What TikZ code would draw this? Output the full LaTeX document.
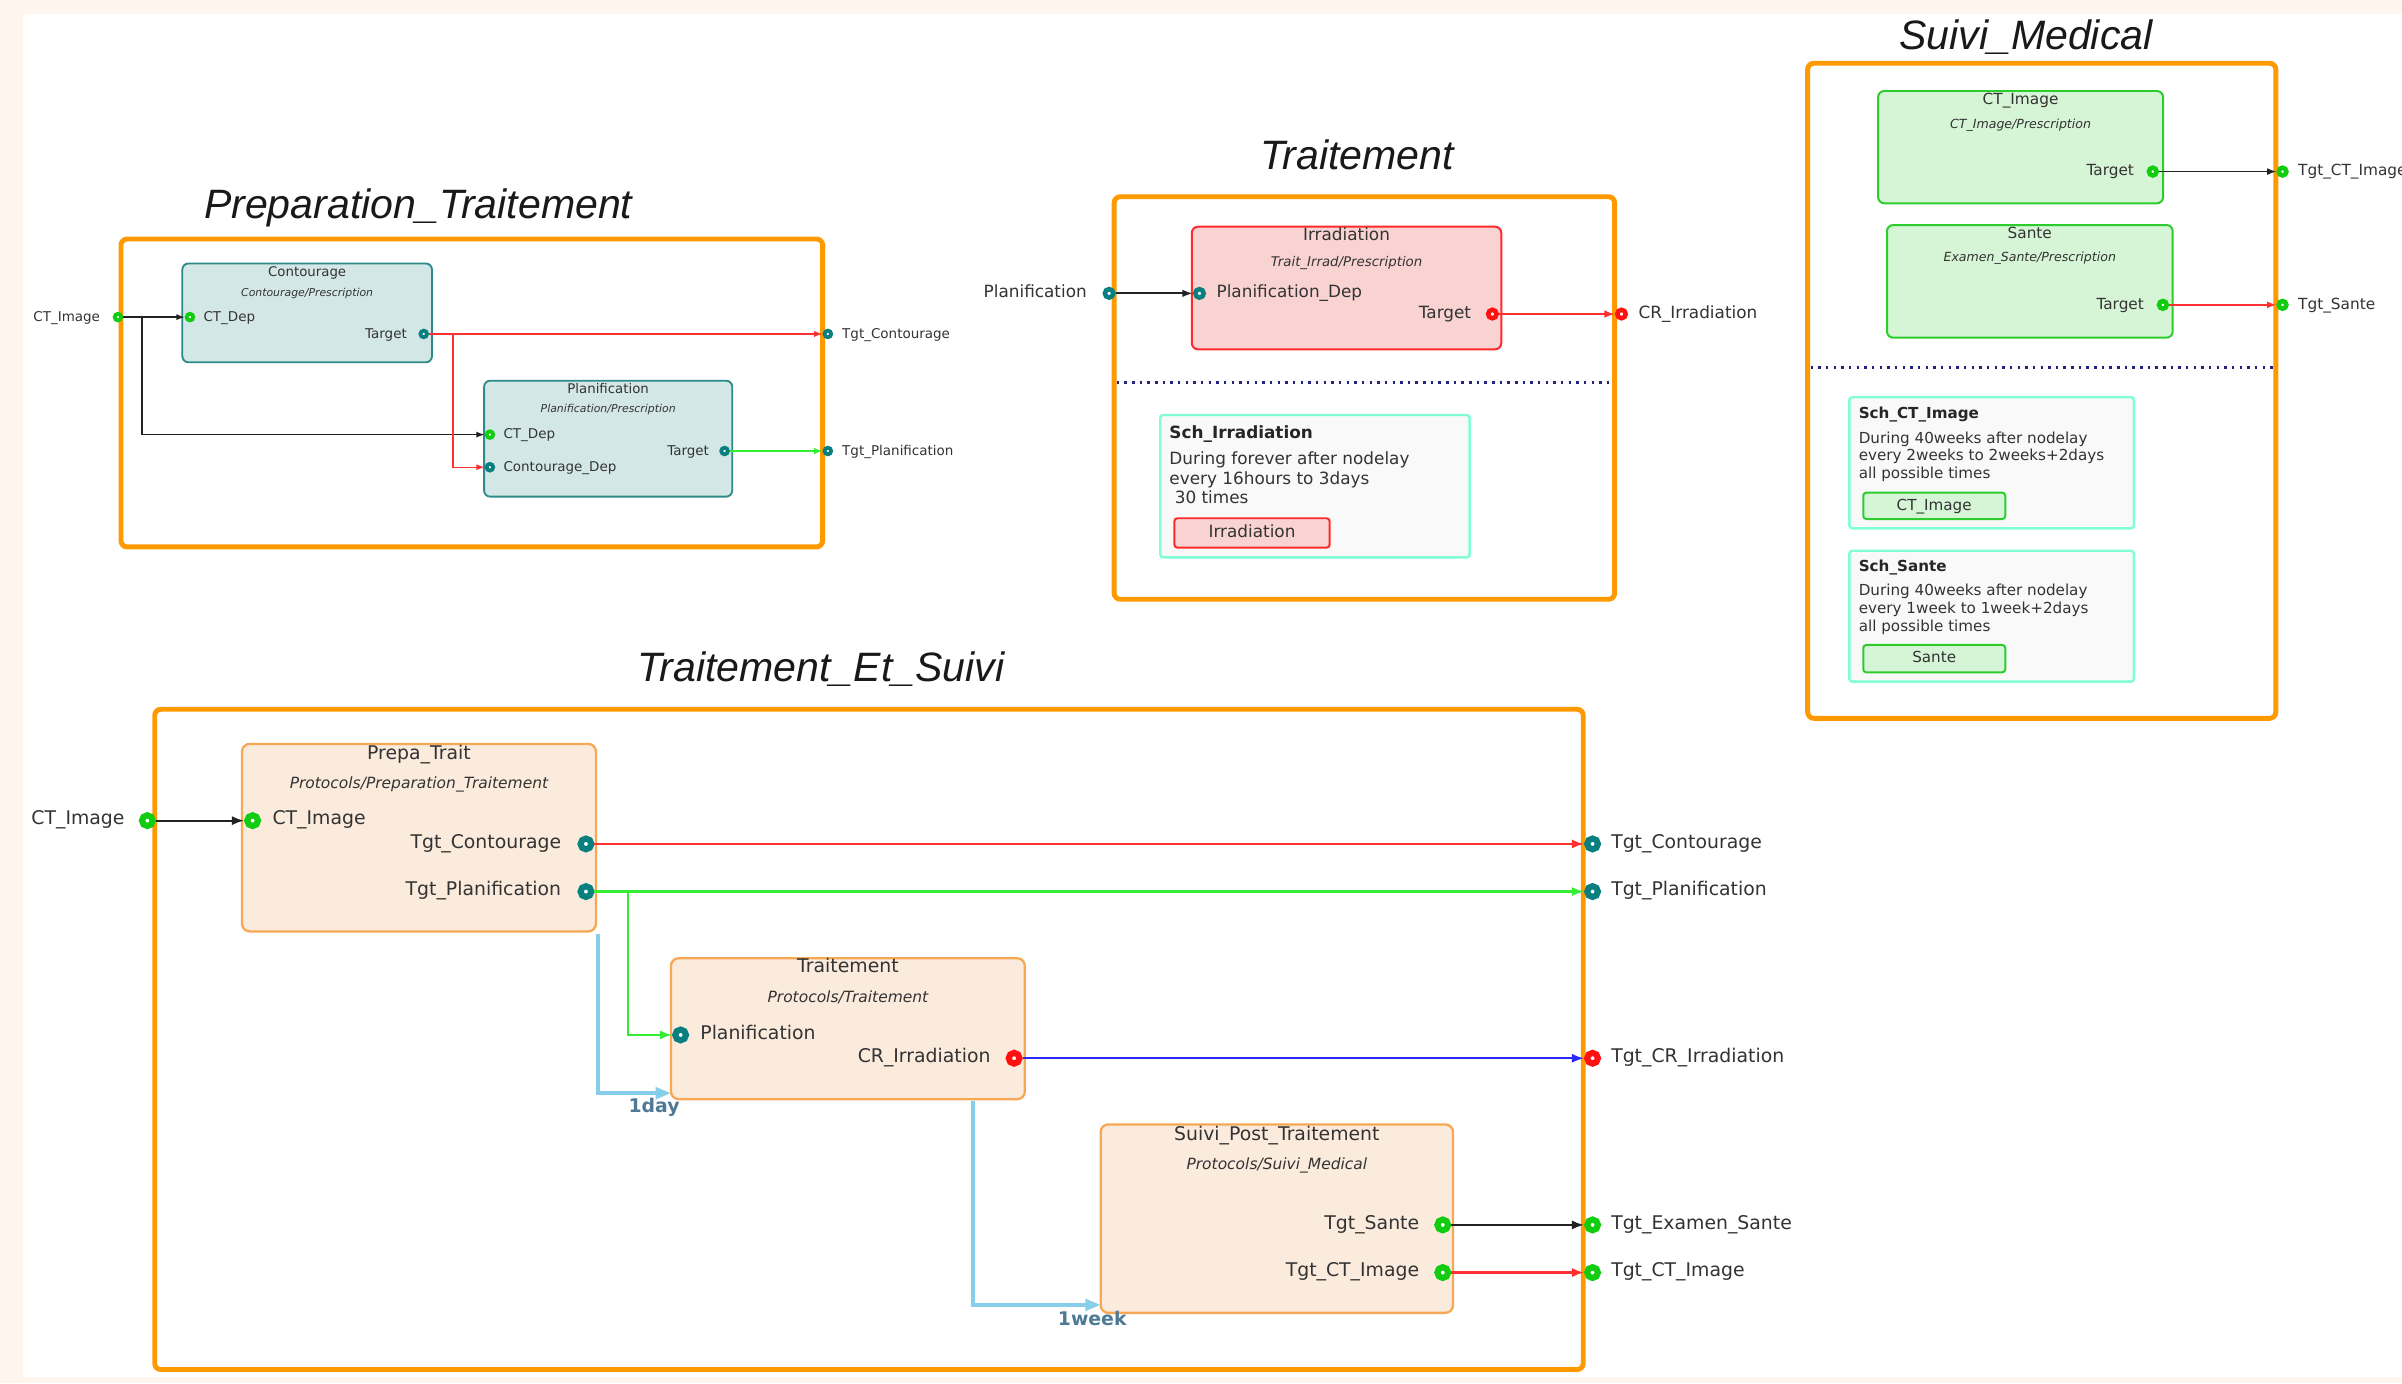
\documentclass[tikz,border=0pt]{standalone}
\usepackage{fontspec}
\setmainfont{DejaVu Sans}
\newfontfamily\titlefont{Liberation Sans}
\usetikzlibrary{arrows.meta}
\definecolor{cream}{HTML}{FDF5EE}
\definecolor{grporange}{HTML}{FF9900}
\definecolor{portteal}{HTML}{0A7F7F}
\definecolor{portgreen}{HTML}{11CC11}
\definecolor{portred}{HTML}{FF1111}
\definecolor{tealfill}{HTML}{D3E8E6}
\definecolor{tealline}{HTML}{2E8A8A}
\definecolor{pinkfill}{HTML}{F9D2D2}
\definecolor{pinkline}{HTML}{FF2A2A}
\definecolor{greenfill}{HTML}{D6F5D6}
\definecolor{greenline}{HTML}{2CCC2C}
\definecolor{peachfill}{HTML}{FBEBDD}
\definecolor{peachline}{HTML}{F7A855}
\definecolor{schline}{HTML}{80FFD4}
\definecolor{schfill}{HTML}{F9F9F9}
\definecolor{linered}{HTML}{FF3030}
\definecolor{linegreen}{HTML}{33EE33}
\definecolor{lineblue}{HTML}{2828FF}
\definecolor{lineblack}{HTML}{222222}
\definecolor{skyline}{HTML}{87CEEB}
\definecolor{delaytext}{HTML}{4E7A96}
\definecolor{navydot}{HTML}{22227A}
\definecolor{txt}{HTML}{333333}
\newcommand\fsz[1]{\fontsize{#1}{#1}\selectfont}
\begin{document}
\begin{tikzpicture}[x=1pt,y=-1pt,
  title/.style={inner sep=0pt, anchor=base, text=black!90, font=\titlefont\itshape\fsz{26.8}},
  grpbox/.style={draw=grporange, line width=3.2pt, rounded corners=4pt, anchor=north west, inner sep=0pt, outer sep=0pt},
  tealbox/.style={draw=tealline, fill=tealfill, line width=1.2pt, rounded corners=4pt, anchor=north west, inner sep=0pt, outer sep=0pt},
  pinkbox/.style={draw=pinkline, fill=pinkfill, line width=1.3pt, rounded corners=4pt, anchor=north west, inner sep=0pt, outer sep=0pt},
  greenbox/.style={draw=greenline, fill=greenfill, line width=1.3pt, rounded corners=4pt, anchor=north west, inner sep=0pt, outer sep=0pt},
  peachbox/.style={draw=peachline, fill=peachfill, line width=1.5pt, rounded corners=5pt, anchor=north west, inner sep=0pt, outer sep=0pt},
  schbox/.style={draw=schline, fill=schfill, line width=1.6pt, rounded corners=2pt, anchor=north west, inner sep=0pt, outer sep=0pt},
  lbl/.style={inner sep=0pt, text=txt},
  lw/.style={lbl, anchor=mid west},
  le/.style={lbl, anchor=mid east},
  lc/.style={lbl, anchor=mid},
  portL/.style={circle, fill=white, inner sep=0pt, minimum size=7pt, line width=4pt},
  portM/.style={circle, fill=white, inner sep=0pt, minimum size=5.5pt, line width=3pt},
  portS/.style={circle, fill=white, inner sep=0pt, minimum size=5pt, line width=3pt},
  portX/.style={circle, fill=white, inner sep=0pt, minimum size=4.3pt, line width=2.5pt},
  connL/.style={line width=1.5pt, -{Latex[length=8pt,width=6pt]}},
  connM/.style={line width=1.3pt, -{Latex[length=7pt,width=5pt]}},
  connS/.style={line width=1.1pt, -{Latex[length=6pt,width=4.5pt]}},
  connX/.style={line width=0.9pt, -{Latex[length=5.5pt,width=4pt]}},
  delay/.style={draw=skyline, line width=2.6pt, -{Triangle[length=10pt,width=7.5pt]}},
  delaylbl/.style={inner sep=0pt, anchor=mid, text=delaytext, font=\bfseries\fsz{12.3}},
  dotline/.style={draw=navydot, line width=2pt, dash pattern=on 1.6pt off 3.4pt}
]
\useasboundingbox (0,0) rectangle (1568,903);
\fill[cream] (0,0) rectangle (1568,903);
\fill[white] (15,9) rectangle (1568,899);

%% ================= Preparation_Traitement =================
\node[title] (tPrep) at (273,142.5) {Preparation\_Traitement};
\node[grpbox, minimum width=458pt, minimum height=201pt] (gPrep) at (79,156) {};
\node[tealbox, minimum width=163pt, minimum height=64.5pt] (bCont) at (119,172) {};
\node[lc, font=\fsz{8.7}] (bContT) at (200.5,177.5) {Contourage};
\node[lc, font=\itshape\fsz{7.1}] (bContS) at (200.5,191) {Contourage/Prescription};
\node[tealbox, minimum width=162pt, minimum height=75.7pt] (bPlan) at (316,248.5) {};
\node[lc, font=\fsz{8.7}] (bPlanT) at (397,254) {Planification};
\node[lc, font=\itshape\fsz{7.1}] (bPlanS) at (397,266.8) {Planification/Prescription};

\node[portX, draw=portgreen] (pCT) at (77,207) {};
\node[portX, draw=portgreen] (cCTDep) at (124,207) {};
\node[portX, draw=portteal] (cTarget) at (276.6,218) {};
\node[portX, draw=portgreen] (plCTDep) at (319.8,283.7) {};
\node[portX, draw=portteal] (plCDep) at (319.8,305) {};
\node[portX, draw=portteal] (plTarget) at (473,294.4) {};
\node[portX, draw=portteal] (pTgtC) at (540.4,218) {};
\node[portX, draw=portteal] (pTgtP) at (540.4,294.4) {};

\begin{scope}[font=\fsz{8.8}]
\node[le] (lpCT) at (65.5,207) {CT\_Image};
\node[lw] (lcCTDep) at (132.7,207) {CT\_Dep};
\node[le] (lcTarget) at (265.8,218) {Target};
\node[lw] (lplCTDep) at (328.5,283.7) {CT\_Dep};
\node[lw] (lplCDep) at (328.5,305) {Contourage\_Dep};
\node[le] (lplTarget) at (463,294.4) {Target};
\node[lw] (lpTgtC) at (549.6,218) {Tgt\_Contourage};
\node[lw] (lpTgtP) at (549.6,294.4) {Tgt\_Planification};
\end{scope}

\coordinate (brB) at (92.7,283.7);
\coordinate (brA) at (295.8,305);
\draw[connX, lineblack] (pCT) -- (cCTDep);
\draw[connX, lineblack] (pCT) -| (brB) -- (plCTDep);
\draw[connX, linered] (cTarget) -- (pTgtC);
\draw[connX, linered] (cTarget) -| (brA) -- (plCDep);
\draw[connX, linegreen] (plTarget) -- (pTgtP);

%% ================= Traitement =================
\node[title] (tTrait) at (886,110.5) {Traitement};
\node[grpbox, minimum width=326.7pt, minimum height=262.8pt] (gTrait) at (727.3,128.4) {};
\node[pinkbox, minimum width=202pt, minimum height=80pt] (bIrr) at (778,148) {};
\node[lc, font=\fsz{11}] (bIrrT) at (879,154.5) {Irradiation};
\node[lc, font=\itshape\fsz{8.7}] (bIrrS) at (879,171.2) {Trait\_Irrad/Prescription};

\node[portM, draw=portteal] (tPlanIn) at (724,191.5) {};
\node[portM, draw=portteal] (iPlanDep) at (783,191.5) {};
\node[portM, draw=portred] (iTarget) at (974.2,205) {};
\node[portM, draw=portred] (tCROut) at (1058.5,205) {};
\begin{scope}[font=\fsz{11}]
\node[le] (ltPlanIn) at (709.6,191.5) {Planification};
\node[lw] (liPlanDep) at (794,191.5) {Planification\_Dep};
\node[le] (liTarget) at (960.5,205) {Target};
\node[lw] (ltCROut) at (1069.4,205) {CR\_Irradiation};
\end{scope}
\draw[connM, lineblack] (tPlanIn) -- (iPlanDep);
\draw[connM, linered] (iTarget) -- (tCROut);

\coordinate (dtA) at (729,249.6);
\coordinate (dtB) at (1053,249.6);
\draw[dotline] (dtA) -- (dtB);

\node[schbox, minimum width=202pt, minimum height=93pt] (sIrr) at (757.4,270.9) {};
\begin{scope}[font=\fsz{11}]
\node[lw, font=\bfseries\fsz{11}, text=black!85] (sIrrT) at (763.2,283.3) {Sch\_Irradiation};
\node[lw] (sIrr1) at (763.2,300.7) {During forever after nodelay};
\node[lw] (sIrr2) at (763.2,313.3) {every 16hours to 3days};
\node[lw] (sIrr3) at (763.2,326) {\ 30 times};
\end{scope}
\node[pinkbox, rounded corners=2pt, minimum width=101.4pt, minimum height=19.2pt] (sIrrB) at (766.6,338.3) {};
\node[lc, font=\fsz{11}] (sIrrBT) at (817.3,348.2) {Irradiation};

%% ================= Suivi_Medical =================
\node[title] (tSuivi) at (1322.5,32.6) {Suivi\_Medical};
\node[grpbox, minimum width=305.6pt, minimum height=427.6pt] (gSuivi) at (1180,41.3) {};
\node[greenbox, minimum width=186pt, minimum height=73.3pt] (bCTI) at (1226,59.4) {};
\node[lc, font=\fsz{10}] (bCTIT) at (1319,65.3) {CT\_Image};
\node[lc, font=\itshape\fsz{8.2}] (bCTIS) at (1319,81) {CT\_Image/Prescription};
\node[greenbox, minimum width=186.5pt, minimum height=73.5pt] (bSan) at (1231.8,146.9) {};
\node[lc, font=\fsz{10}] (bSanT) at (1325,152.7) {Sante};
\node[lc, font=\itshape\fsz{8.2}] (bSanS) at (1325,168) {Examen\_Sante/Prescription};

\node[portS, draw=portgreen] (sCTTarget) at (1405.3,112) {};
\node[portS, draw=portgreen] (sTgtCT) at (1490,112) {};
\node[portS, draw=portgreen] (sSanTarget) at (1411.9,199) {};
\node[portS, draw=portgreen] (sTgtSan) at (1490,199) {};
\begin{scope}[font=\fsz{10}]
\node[le] (lsCTTarget) at (1393.2,112) {Target};
\node[lw] (lsTgtCT) at (1500,112) {Tgt\_CT\_Image};
\node[le] (lsSanTarget) at (1399.7,199) {Target};
\node[lw] (lsTgtSan) at (1500,199) {Tgt\_Sante};
\end{scope}
\draw[connS, lineblack] (sCTTarget) -- (sTgtCT);
\draw[connS, linered] (sSanTarget) -- (sTgtSan);

\coordinate (dsA) at (1182,239.8);
\coordinate (dsB) at (1484,239.8);
\draw[dotline] (dsA) -- (dsB);

\node[schbox, minimum width=185.8pt, minimum height=85.6pt] (sCT) at (1207.2,259.3) {};
\node[schbox, minimum width=185.8pt, minimum height=85.5pt] (sSan) at (1207.2,359.5) {};
\begin{scope}[font=\fsz{9.9}]
\node[lw, font=\bfseries\fsz{9.9}, text=black!85] (sCTT) at (1213.2,270.5) {Sch\_CT\_Image};
\node[lw] (sCT1) at (1213.2,286.6) {During 40weeks after nodelay};
\node[lw] (sCT2) at (1213.2,298.1) {every 2weeks to 2weeks+2days};
\node[lw] (sCT3) at (1213.2,309.6) {all possible times};
\node[lw, font=\bfseries\fsz{9.9}, text=black!85] (sSanT) at (1213.2,370.3) {Sch\_Sante};
\node[lw] (sSan1) at (1213.2,385.8) {During 40weeks after nodelay};
\node[lw] (sSan2) at (1213.2,397.7) {every 1week to 1week+2days};
\node[lw] (sSan3) at (1213.2,409.5) {all possible times};
\end{scope}
\node[greenbox, rounded corners=2pt, minimum width=92.7pt, minimum height=17.2pt] (sCTB) at (1216.3,321.6) {};
\node[lc, font=\fsz{9.9}] (sCTBT) at (1262.6,330.2) {CT\_Image};
\node[greenbox, rounded corners=2pt, minimum width=92.7pt, minimum height=17.9pt] (sSanB) at (1216.3,421) {};
\node[lc, font=\fsz{9.9}] (sSanBT) at (1262.6,430) {Sante};

%% ================= Traitement_Et_Suivi =================
\node[title] (tTES) at (536,445) {Traitement\_Et\_Suivi};
\node[grpbox, minimum width=932.5pt, minimum height=431pt] (gTES) at (101,463) {};
\node[peachbox, minimum width=231pt, minimum height=122.4pt] (bPrepa) at (158,485.6) {};
\node[lc, font=\fsz{12.3}] (bPrepaT) at (273.5,492.8) {Prepa\_Trait};
\node[lc, font=\itshape\fsz{10.1}] (bPrepaS) at (273.5,511.7) {Protocols/Preparation\_Traitement};
\node[peachbox, minimum width=231pt, minimum height=92pt] (bTr) at (438,625.5) {};
\node[lc, font=\fsz{12.3}] (bTrT) at (553.5,632) {Traitement};
\node[lc, font=\itshape\fsz{10.1}] (bTrS) at (553.5,651.6) {Protocols/Traitement};
\node[peachbox, minimum width=230pt, minimum height=123pt] (bSP) at (718.5,734) {};
\node[lc, font=\fsz{12.3}] (bSPT) at (833.5,741.5) {Suivi\_Post\_Traitement};
\node[lc, font=\itshape\fsz{10.1}] (bSPS) at (833.5,760.9) {Protocols/Suivi\_Medical};

\node[portL, draw=portgreen] (bCTin) at (96.2,535.7) {};
\node[portL, draw=portgreen] (pCTImage) at (164.9,535.7) {};
\node[portL, draw=portteal] (pTgtCont) at (382.5,550.9) {};
\node[portL, draw=portteal] (pTgtPlan) at (382.5,582) {};
\node[portL, draw=portteal] (trPlan) at (444.3,675.6) {};
\node[portL, draw=portred] (trCR) at (662,690.8) {};
\node[portL, draw=portgreen] (spSante) at (941.8,799.6) {};
\node[portL, draw=portgreen] (spCT) at (941.8,830.7) {};
\node[portL, draw=portteal] (oCont) at (1039.6,550.9) {};
\node[portL, draw=portteal] (oPlan) at (1039.6,582) {};
\node[portL, draw=portred] (oCR) at (1039.6,690.8) {};
\node[portL, draw=portgreen] (oExam) at (1039.6,799.6) {};
\node[portL, draw=portgreen] (oCT) at (1039.6,830.7) {};

\begin{scope}[font=\fsz{12.3}]
\node[le] (lbCTin) at (81.5,535.7) {CT\_Image};
\node[lw] (lpCTImage) at (177.7,535.7) {CT\_Image};
\node[le] (lpTgtCont) at (366.5,550.9) {Tgt\_Contourage};
\node[le] (lpTgtPlan) at (366.5,582) {Tgt\_Planification};
\node[lw] (ltrPlan) at (457,675.6) {Planification};
\node[le] (ltrCR) at (646.8,690.8) {CR\_Irradiation};
\node[le] (lspSante) at (926.6,799.6) {Tgt\_Sante};
\node[le] (lspCT) at (926.6,830.7) {Tgt\_CT\_Image};
\node[lw] (loCont) at (1051.6,550.9) {Tgt\_Contourage};
\node[lw] (loPlan) at (1051.6,582) {Tgt\_Planification};
\node[lw] (loCR) at (1051.6,690.8) {Tgt\_CR\_Irradiation};
\node[lw] (loExam) at (1051.6,799.6) {Tgt\_Examen\_Sante};
\node[lw] (loCT) at (1051.6,830.7) {Tgt\_CT\_Image};
\end{scope}

\coordinate (brC) at (410,675.6);
\draw[connL, lineblack] (bCTin) -- (pCTImage);
\draw[connL, linered] (pTgtCont) -- (oCont);
\draw[connL, linegreen] (pTgtPlan) -- (oPlan);
\draw[connL, linegreen] (pTgtPlan) -| (brC) -- (trPlan);
\draw[connL, lineblue] (trCR) -- (oCR);
\draw[connL, lineblack] (spSante) -- (oExam);
\draw[connL, linered] (spCT) -- (oCT);

\coordinate (d1s) at (390.5,610);
\coordinate (d1c) at (390.5,713.6);
\draw[delay] (d1s) -- (d1c) -- (bTr.west |- d1c);
\node[delaylbl] (l1day) at (427,723.5) {1day};
\coordinate (d2s) at (635,718.5);
\coordinate (d2c) at (635,851.8);
\draw[delay] (d2s) -- (d2c) -- (bSP.west |- d2c);
\node[delaylbl] (l1week) at (713,862.7) {1week};
\end{tikzpicture}
\end{document}
